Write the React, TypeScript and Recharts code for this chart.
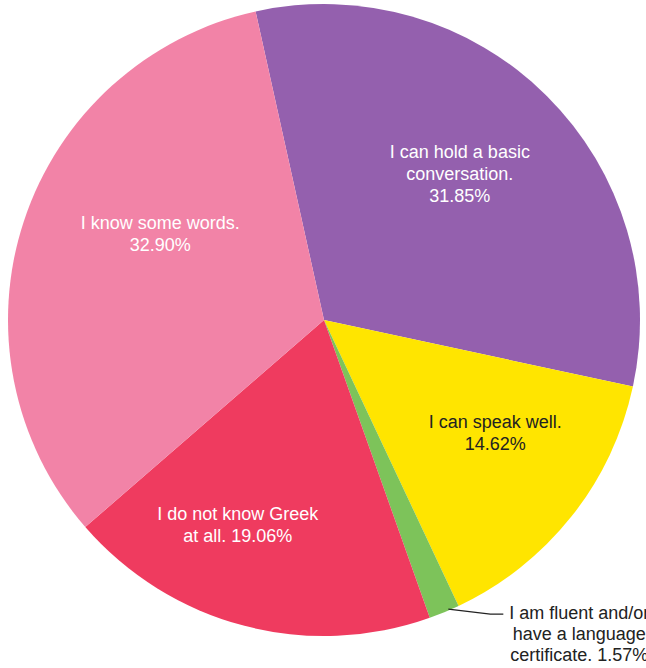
import React from "react";
import { PieChart, Pie, Cell } from "recharts";

const categories = [
  "I can hold a basic conversation.",
  "I can speak well.",
  "I am fluent and/or have a language certificate.",
  "I do not know Greek at all.",
  "I know some words.",
];
const values = [31.85, 14.62, 1.57, 19.06, 32.9];
// label text lines; "{p}" is replaced by the formatted percentage
const labelLines = [
  ["I can hold a basic", "conversation.", "{p}"],
  ["I can speak well.", "{p}"],
  ["I am fluent and/or", "have a language", "certificate. {p}"],
  ["I do not know Greek", "at all. {p}"],
  ["I know some words.", "{p}"],
];
const colors = ["#9460AE", "#FFE500", "#7DC35A", "#EF3B5F", "#F283A7"];
const textColors = ["#FFFFFF", "#222222", "#222222", "#FFFFFF", "#FFFFFF"];
// label placement: angle offset (deg, clockwise) from slice middle, radius fraction
const labelLayout = [
  { da: -1.8, rf: 0.63 },
  { da: -5, rf: 0.65 },
  { da: 0, rf: 1.0, outside: true },
  { da: 8, rf: 0.705 },
  { da: 9.4, rf: 0.585 },
];

const data = categories.map((name, i) => ({ name, value: values[i] }));
const RAD = Math.PI / 180;
const LINE_H = 22;
const FONT = "'Liberation Sans', Arial, sans-serif";
const FS = 18;

const renderLabel = (props: any) => {
  const { cx, cy, midAngle, outerRadius, index, value } = props;
  const lay = labelLayout[index];
  const cwAngle = 90 - midAngle + lay.da;
  const r = outerRadius * lay.rf;
  const x = cx + r * Math.sin(cwAngle * RAD);
  const y = cy - r * Math.cos(cwAngle * RAD);
  const pct = value.toFixed(2) + "%";
  const lines = labelLines[index].map((l) => l.replace("{p}", pct));
  const fill = textColors[index];
  if (lay.outside) {
    const ex = x + 4;
    const ey = y - 3;
    const tx = ex + 131;
    const ty = ey + 4;
    return (
      <g>
        <polyline
          points={`${ex},${ey} ${ex + 42},${ey + 5} ${ex + 55},${ey + 5}`}
          fill="none"
          stroke="#222"
          strokeWidth={1.2}
        />
        {lines.map((l, i) => (
          <text
            key={i}
            x={tx}
            y={ty + i * 21}
            fill={fill}
            textAnchor="middle"
            dominantBaseline="central"
            fontSize={FS}
            fontFamily={FONT}
          >
            {l}
          </text>
        ))}
      </g>
    );
  }
  const y0 = y - ((lines.length - 1) * LINE_H) / 2;
  return (
    <g>
      {lines.map((l, i) => (
        <text
          key={i}
          x={x}
          y={y0 + i * LINE_H}
          fill={fill}
          textAnchor="middle"
          dominantBaseline="central"
          fontSize={FS}
          fontFamily={FONT}
        >
          {l}
        </text>
      ))}
    </g>
  );
};

export default function App() {
  return (
    <div
      style={{
        position: "absolute",
        left: 0,
        top: 0,
        width: 646,
        height: 668,
        overflow: "hidden",
        background: "#fff",
      }}
    >
      <PieChart width={646} height={668} margin={{ top: 0, right: 0, bottom: 0, left: 0 }}>
        <Pie
          data={data}
          dataKey="value"
          nameKey="name"
          cx={324}
          cy={320}
          outerRadius={316}
          startAngle={102.5}
          endAngle={-257.5}
          stroke="none"
          label={renderLabel}
          labelLine={false}
          isAnimationActive={false}
        >
          {data.map((d, i) => (
            <Cell key={i} fill={colors[i]} />
          ))}
        </Pie>
      </PieChart>
    </div>
  );
}
